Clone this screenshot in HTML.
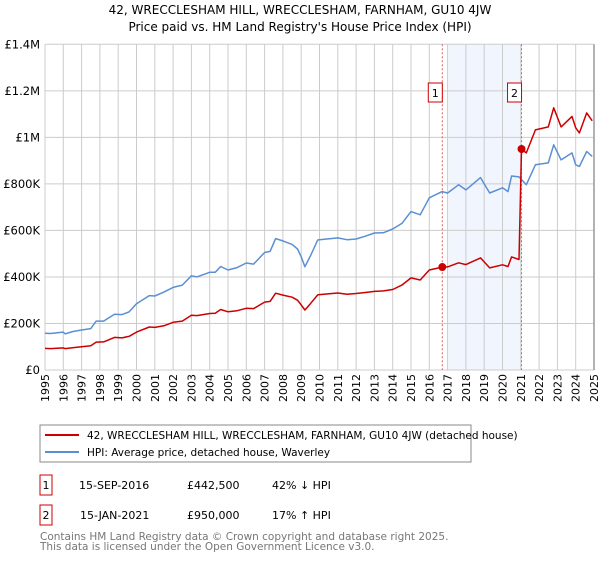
<!DOCTYPE html>
<html><head><meta charset="utf-8"><style>
body{margin:0;background:#fff;font-family:"Liberation Sans","DejaVu Sans",sans-serif;}
svg text{font-family:"DejaVu Sans","Liberation Sans",sans-serif;}
</style></head><body>
<svg width="600" height="560" viewBox="0 0 600 560">
<text x="300" y="14" text-anchor="middle" font-size="12">42, WRECCLESHAM HILL, WRECCLESHAM, FARNHAM, GU10 4JW</text>
<text x="300" y="31" text-anchor="middle" font-size="12">Price paid vs. HM Land Registry's House Price Index (HPI)</text>
<g id="grid"></g>
<g id="marks"></g>
<g id="axes"></g>
<rect x="40" y="425" width="431" height="37" fill="#fff" stroke="#888"/>
<line x1="45" y1="435" x2="79" y2="435" stroke="#cc0000" stroke-width="2"/>
<text x="87" y="439" font-size="10.5">42, WRECCLESHAM HILL, WRECCLESHAM, FARNHAM, GU10 4JW (detached house)</text>
<line x1="45" y1="452" x2="79" y2="452" stroke="#5b8fd4" stroke-width="2"/>
<text x="87" y="456" font-size="10.5">HPI: Average price, detached house, Waverley</text>
<g>
<rect x="40" y="475" width="12" height="20" fill="#fff" stroke="#cc0000"/>
<text x="46" y="489" font-size="11" text-anchor="middle">1</text>
<text x="79" y="489" font-size="11">15-SEP-2016</text>
<text x="187" y="489" font-size="11">£442,500</text>
<text x="272" y="489" font-size="11">42% ↓ HPI</text>
</g>
<g>
<rect x="40" y="505" width="12" height="20" fill="#fff" stroke="#cc0000"/>
<text x="46" y="519" font-size="11" text-anchor="middle">2</text>
<text x="80" y="519" font-size="11">15-JAN-2021</text>
<text x="187" y="519" font-size="11">£950,000</text>
<text x="272" y="519" font-size="11">17% ↑ HPI</text>
</g>
<text x="40" y="540" font-size="10.5" fill="#777">Contains HM Land Registry data © Crown copyright and database right 2025.</text>
<text x="40" y="550" font-size="10.5" fill="#777">This data is licensed under the Open Government Licence v3.0.</text>
</svg>
<script>
const NS="http://www.w3.org/2000/svg";
const yearTicks=[1995,1996,1997,1998,1999,2000,2001,2002,2003,2004,2005,2006,2007,2008,2009,2010,2011,2012,2013,2014,2015,2016,2017,2018,2019,2020,2021,2022,2023,2024,2025];
const valueTicks=[0,200000,400000,600000,800000,1000000,1200000,1400000];
const valueTickLabels=["£0","£200K","£400K","£600K","£800K","£1M","£1.2M","£1.4M"];
const hpiDates=[1995,1995.3,1996,1996.1,1996.5,1997,1997.5,1997.8,1998.2,1998.8,1999.2,1999.6,2000,2000.7,2001,2001.5,2002,2002.5,2003,2003.3,2004,2004.3,2004.6,2005,2005.5,2006,2006.4,2007,2007.3,2007.6,2008,2008.5,2008.8,2009,2009.2,2009.5,2009.9,2010,2011,2011.5,2012,2012.5,2013,2013.5,2014,2014.5,2015,2015.5,2016,2016.7,2017,2017.6,2018,2018.8,2019.3,2020,2020.3,2020.5,2020.9,2021.3,2021.8,2022.5,2022.8,2023.2,2023.8,2024,2024.2,2024.6,2024.9];
const hpiValues=[158000,157000,163000,155000,165000,172000,178000,210000,210000,240000,238000,250000,285000,320000,318000,335000,355000,365000,405000,400000,420000,420000,445000,430000,440000,460000,455000,505000,510000,565000,555000,540000,520000,487000,444000,490000,559000,560000,568000,560000,563000,575000,589000,590000,606000,630000,681000,667000,740000,767000,761000,796000,774000,827000,761000,783000,767000,834000,830000,796000,882000,890000,968000,903000,933000,882000,875000,939000,918000];
const priceDates=[1995,1995.3,1996,1996.1,1996.5,1997,1997.5,1997.8,1998.2,1998.8,1999.2,1999.6,2000,2000.7,2001,2001.5,2002,2002.5,2003,2003.3,2004,2004.3,2004.6,2005,2005.5,2006,2006.4,2007,2007.3,2007.6,2008,2008.5,2008.8,2009,2009.2,2009.5,2009.9,2010,2011,2011.5,2012,2012.5,2013,2013.5,2014,2014.5,2015,2015.5,2016,2016.7,2017,2017.6,2018,2018.8,2019.3,2020,2020.3,2020.5,2020.9,2021.04,2021.3,2021.8,2022.5,2022.8,2023.2,2023.8,2024,2024.2,2024.6,2024.9];
const priceValues=[93000,92000,95000,92000,96000,100000,104000,120000,121000,140000,138000,145000,163000,185000,183000,190000,205000,210000,235000,234000,243000,244000,260000,250000,255000,265000,264000,292000,295000,330000,322000,313000,300000,280000,258000,285000,323000,324000,331000,326000,329000,333000,338000,340000,346000,365000,396000,387000,430000,442500,443000,461000,453000,482000,439000,452000,445000,486000,475000,950000,933000,1032000,1045000,1127000,1045000,1090000,1041000,1019000,1105000,1071000];
const saleDates=[2016.71,2021.04];
const salePrices=[442500,950000];
const saleLabels=["1","2"];
const X0=45,X1=594,Y0=370,Y1=44.3;
const xs=d=>X0+(d-1995)/(2025-1995)*(X1-X0);
const ys=v=>Y0-v/1400000*(Y0-Y1);
function mk(tag,attrs,parent){const e=document.createElementNS(NS,tag);for(const k in attrs)e.setAttribute(k,attrs[k]);parent.appendChild(e);return e;}
const grid=document.getElementById('grid'),marks=document.getElementById('marks'),axes=document.getElementById('axes');
const shade=mk('rect',{x:xs(2017.05),y:Y1,width:xs(saleDates[1])-xs(2017.05),height:Y0-Y1,fill:'#eef3fc',opacity:0.8},grid);


yearTicks.forEach(y=>{
 const l=mk('line',{x1:xs(y),x2:xs(y),y1:Y1,y2:Y0,stroke:'#cccccc','stroke-width':1},grid);
 
 
 const t=mk('text',{x:0,y:0,'font-size':11,'text-anchor':'end',transform:`translate(${xs(y)+4},374) rotate(-90)`},axes);
 t.textContent=y;
 
 
});
valueTicks.forEach((v,i)=>{
 const l=mk('line',{x1:X0,x2:X1,y1:ys(v),y2:ys(v),stroke:'#cccccc','stroke-width':1},grid);
 
 
 const t=mk('text',{x:40,y:ys(v)+4,'font-size':11.5,'text-anchor':'end'},axes);
 t.textContent=valueTickLabels[i];
 
 
});
const rb=mk('line',{x1:X1,x2:X1,y1:Y1,y2:Y0,stroke:'#999','stroke-width':1.5},grid);


saleDates.forEach((d,i)=>{
 const l=mk('line',{x1:xs(d),x2:xs(d),y1:Y1,y2:Y0,stroke:'#e06060','stroke-width':1,'stroke-dasharray':'2,2'},marks);
 
 
});
function path(dates,vals,color,name){
 const p=mk('path',{d:dates.map((d,i)=>(i?'L':'M')+xs(d).toFixed(1)+','+ys(vals[i]).toFixed(1)).join(''),fill:'none',stroke:color,'stroke-width':1.5,'stroke-linejoin':'round'},marks);
 
 
}
path(hpiDates,hpiValues,'#5b8fd4','hpi-line');
path(priceDates,priceValues,'#cc0000','price-paid-line');
saleDates.forEach((d,i)=>{
 const c=mk('circle',{cx:xs(d),cy:ys(salePrices[i]),r:4,fill:'#cc0000'},marks);
 
 
 const bx=xs(d)-11;
 const r=mk('rect',{x:bx-3,y:83,width:14,height:19,fill:'#fff',stroke:'#cc0000'},marks);
 
 
 const t=mk('text',{x:bx+4,y:97,'font-size':11,'text-anchor':'middle'},marks);
 t.textContent=saleLabels[i];
 
 
});
</script>
</body></html>
